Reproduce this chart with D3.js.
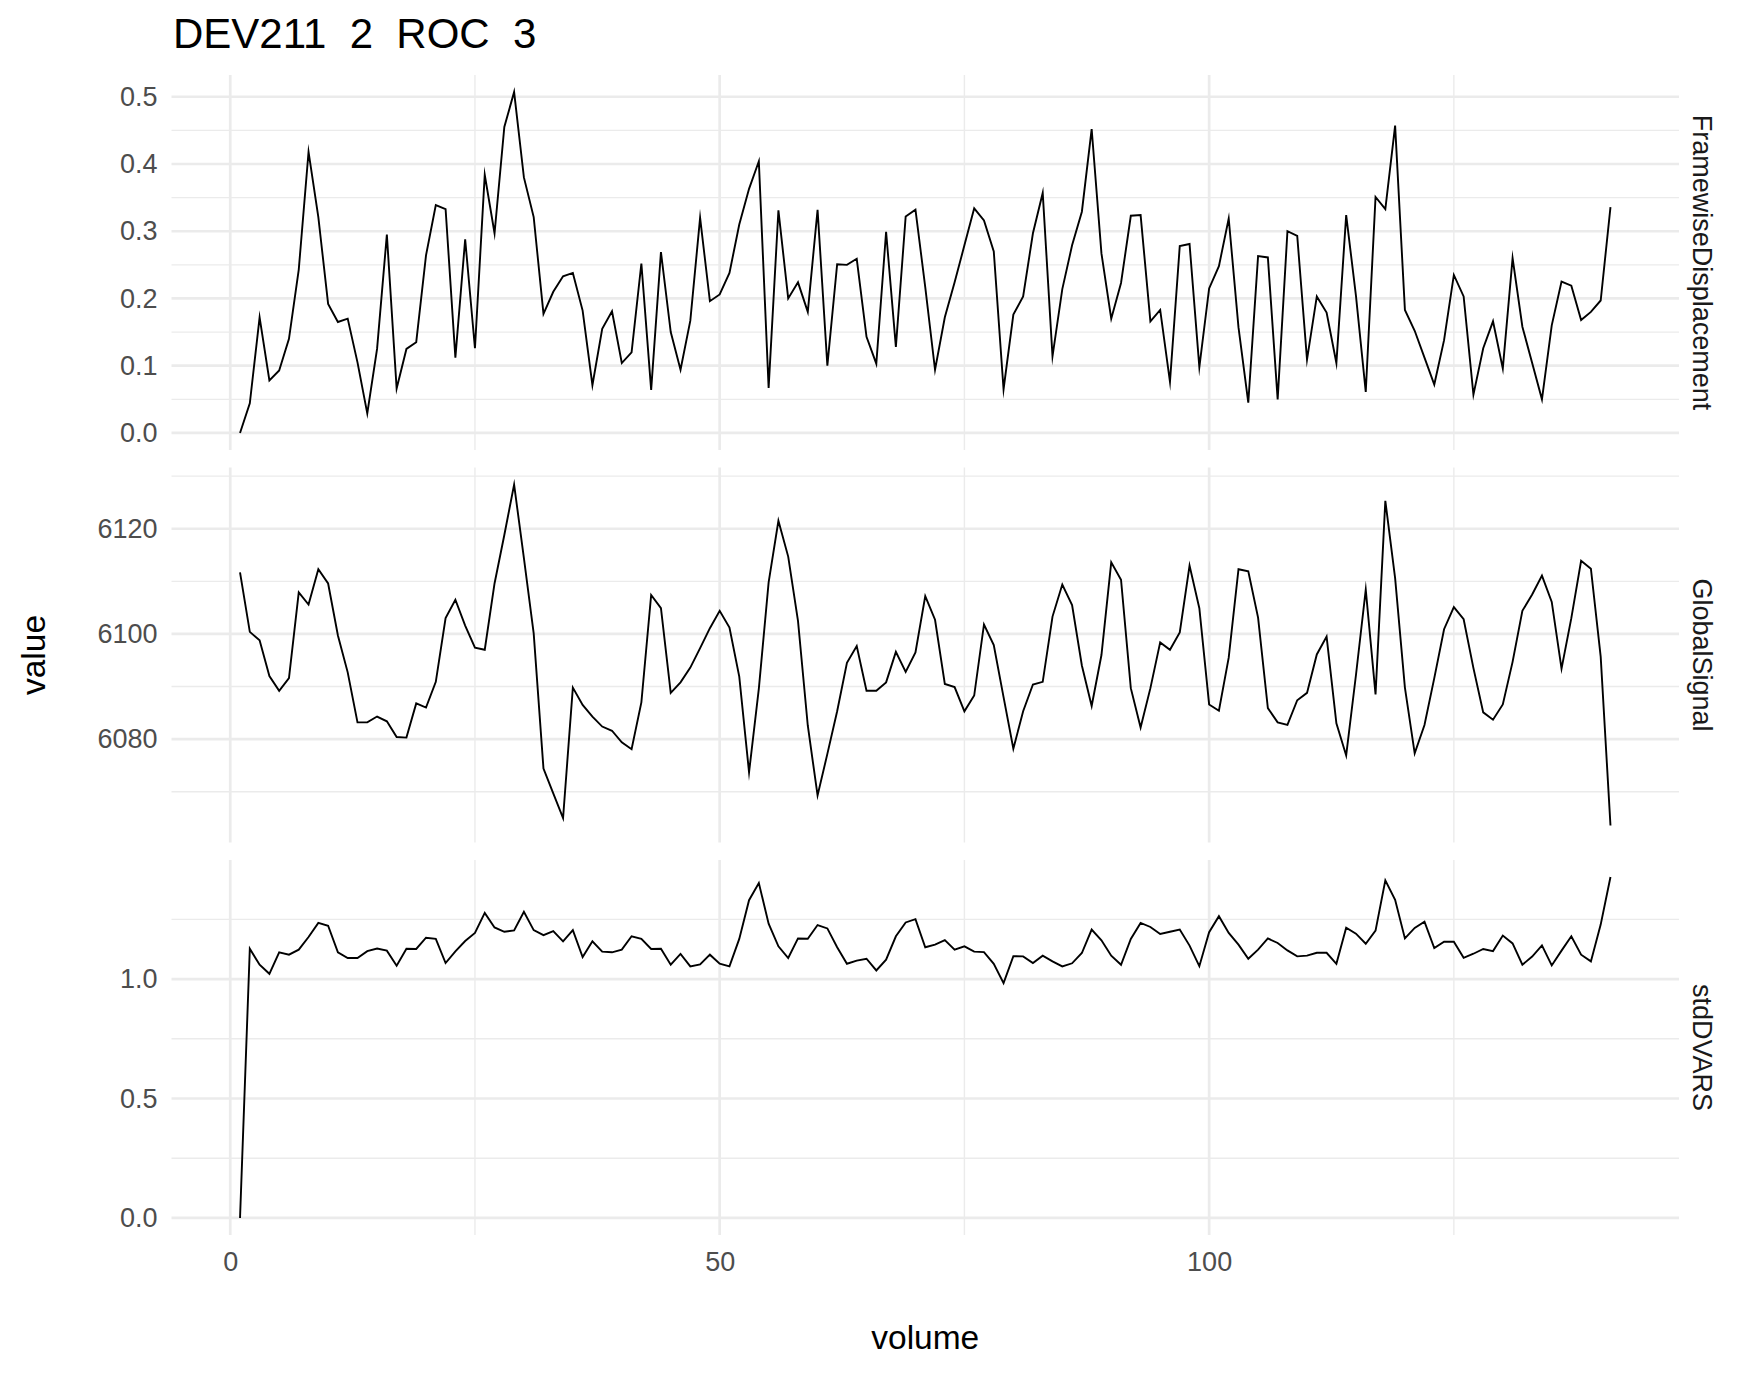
<!DOCTYPE html>
<html>
<head>
<meta charset="utf-8">
<script src="https://cdn.jsdelivr.net/npm/d3@7"></script>
<style>
  html, body { margin: 0; padding: 0; background: #fff; }
  svg text { font-family: "Liberation Sans", Arial, Helvetica, sans-serif; }
</style>
</head>
<body>
<svg id="chart" width="1750" height="1375"></svg>
<script>
const titleText = "DEV211  2  ROC  3";
const xLabel = "volume";
const yLabel = "value";
const facets = ["FramewiseDisplacement", "GlobalSignal", "stdDVARS"];

const volume = [1,2,3,4,5,6,7,8,9,10,11,12,13,14,15,16,17,18,19,20,
  21,22,23,24,25,26,27,28,29,30,31,32,33,34,35,36,37,38,39,40,
  41,42,43,44,45,46,47,48,49,50,51,52,53,54,55,56,57,58,59,60,
  61,62,63,64,65,66,67,68,69,70,71,72,73,74,75,76,77,78,79,80,
  81,82,83,84,85,86,87,88,89,90,91,92,93,94,95,96,97,98,99,100,
  101,102,103,104,105,106,107,108,109,110,111,112,113,114,115,116,117,118,119,120,
  121,122,123,124,125,126,127,128,129,130,131,132,133,134,135,136,137,138,139,140,141];

const framewiseDisplacement = [
  0.000,0.044,0.172,0.078,0.093,0.140,0.243,0.418,0.321,0.192,
  0.165,0.170,0.105,0.029,0.125,0.295,0.066,0.125,0.135,0.264,
  0.339,0.333,0.112,0.288,0.126,0.384,0.297,0.455,0.507,0.380,
  0.321,0.177,0.210,0.233,0.238,0.182,0.071,0.155,0.181,0.104,
  0.120,0.252,0.064,0.269,0.150,0.094,0.167,0.320,0.196,0.206,
  0.238,0.310,0.363,0.404,0.067,0.331,0.200,0.224,0.180,0.332,
  0.100,0.251,0.250,0.259,0.143,0.103,0.299,0.128,0.322,0.332,
  0.217,0.094,0.172,0.224,0.279,0.334,0.316,0.270,0.065,0.176,
  0.203,0.297,0.357,0.114,0.214,0.279,0.329,0.452,0.267,0.170,
  0.223,0.323,0.324,0.166,0.183,0.076,0.278,0.281,0.098,0.215,
  0.248,0.319,0.157,0.045,0.263,0.261,0.050,0.300,0.293,0.109,
  0.203,0.179,0.104,0.324,0.204,0.061,0.351,0.333,0.457,0.183,
  0.152,0.112,0.072,0.138,0.235,0.203,0.057,0.126,0.166,0.096,
  0.260,0.158,0.104,0.050,0.160,0.225,0.219,0.168,0.180,0.197,
  0.336];

const globalSignal = [
  6111.7,6100.4,6098.8,6092.0,6089.2,6091.6,6107.9,6105.6,6112.3,6109.6,
  6099.7,6092.7,6083.2,6083.2,6084.3,6083.4,6080.4,6080.3,6086.8,6086.0,
  6090.9,6103.0,6106.5,6101.6,6097.4,6097.0,6109.6,6118.8,6128.4,6114.4,
  6100.1,6074.4,6069.7,6065.0,6089.8,6086.5,6084.3,6082.4,6081.6,6079.4,
  6078.1,6087.0,6107.4,6104.9,6088.8,6090.8,6093.6,6097.3,6101.1,6104.4,
  6101.2,6091.9,6073.7,6089.6,6109.8,6121.5,6114.7,6102.5,6082.6,6069.3,
  6077.2,6085.3,6094.5,6097.7,6089.2,6089.2,6090.8,6096.6,6092.8,6096.5,
  6107.2,6102.7,6090.5,6089.9,6085.3,6088.3,6101.8,6097.9,6088.0,6078.2,
  6085.3,6090.4,6090.9,6103.3,6109.4,6105.5,6094.0,6086.3,6096.0,6113.6,
  6110.3,6089.7,6082.2,6089.7,6098.4,6097.0,6100.3,6113.0,6104.9,6086.6,
  6085.4,6095.5,6112.3,6111.9,6103.1,6085.9,6083.2,6082.7,6087.4,6088.8,
  6096.1,6099.5,6083.0,6076.9,6092.2,6108.4,6088.5,6125.3,6110.6,6089.8,
  6077.3,6082.7,6091.6,6100.9,6105.1,6102.8,6093.5,6085.1,6083.7,6086.6,
  6094.7,6104.4,6107.5,6111.1,6106.1,6093.4,6103.0,6113.9,6112.4,6095.7,
  6063.6];

const stdDVARS = [
  0.000,1.127,1.060,1.022,1.112,1.102,1.123,1.176,1.235,1.223,
  1.112,1.088,1.088,1.117,1.128,1.119,1.056,1.127,1.126,1.173,
  1.168,1.067,1.116,1.159,1.193,1.277,1.216,1.198,1.204,1.282,
  1.205,1.184,1.201,1.158,1.205,1.092,1.158,1.115,1.112,1.123,
  1.179,1.168,1.126,1.127,1.060,1.105,1.053,1.061,1.102,1.064,
  1.053,1.168,1.330,1.402,1.232,1.137,1.088,1.170,1.169,1.226,
  1.212,1.133,1.064,1.077,1.085,1.036,1.081,1.179,1.237,1.251,
  1.133,1.144,1.163,1.123,1.137,1.115,1.113,1.064,0.983,1.096,
  1.095,1.067,1.098,1.074,1.053,1.066,1.109,1.207,1.162,1.098,
  1.060,1.168,1.235,1.218,1.189,1.198,1.207,1.140,1.054,1.196,
  1.263,1.193,1.144,1.085,1.123,1.170,1.151,1.120,1.095,1.098,
  1.110,1.110,1.064,1.215,1.190,1.148,1.203,1.413,1.332,1.170,
  1.214,1.240,1.130,1.156,1.156,1.089,1.106,1.126,1.117,1.182,
  1.149,1.060,1.094,1.141,1.057,1.119,1.179,1.102,1.074,1.228,
  1.427];

const xMajorTicks = [0, 50, 100];
const xMinorTicks = [25, 75, 125];
const fdMajorTicks = [0.0, 0.1, 0.2, 0.3, 0.4, 0.5];
const fdMinorTicks = [0.05, 0.15, 0.25, 0.35, 0.45];
const gsMajorTicks = [6080, 6100, 6120];
const gsMinorTicks = [6070, 6090, 6110, 6130];
const dvMajorTicks = [0.0, 0.5, 1.0];
const dvMinorTicks = [0.25, 0.75, 1.25];

const panels = [
  { name: facets[0], values: framewiseDisplacement, major: fdMajorTicks, minor: fdMinorTicks, fmt: d3.format(".1f") },
  { name: facets[1], values: globalSignal, major: gsMajorTicks, minor: gsMinorTicks, fmt: d3.format("d") },
  { name: facets[2], values: stdDVARS, major: dvMajorTicks, minor: dvMinorTicks, fmt: d3.format(".1f") }
];

// layout
const W = 1750, H = 1375;
const plotLeft = 171.5, plotRight = 1679;
const panelTop = 75, panelH = 375, panelGap = 17.5;

const svg = d3.select("#chart");
svg.append("rect").attr("width", W).attr("height", H).attr("fill", "#ffffff");

function expanded(ext) {
  const r = ext[1] - ext[0];
  return [ext[0] - 0.05 * r, ext[1] + 0.05 * r];
}

const x = d3.scaleLinear()
  .domain(expanded(d3.extent(volume)))
  .range([plotLeft, plotRight]);

const gridMajor = "#EBEBEB", gridMinor = "#EBEBEB";
const tickColor = "#4D4D4D";

panels.forEach((p, i) => {
  const top = panelTop + i * (panelH + panelGap);
  const bottom = top + panelH;
  const y = d3.scaleLinear().domain(expanded(d3.extent(p.values))).range([bottom, top]);
  const g = svg.append("g");

  // minor grid
  g.selectAll(".ymin").data(p.minor.filter(v => v >= y.domain()[0] && v <= y.domain()[1])).enter()
    .append("line").attr("x1", plotLeft).attr("x2", plotRight)
    .attr("y1", d => y(d)).attr("y2", d => y(d))
    .attr("stroke", gridMinor).attr("stroke-width", 1.4);
  g.selectAll(".xmin").data(xMinorTicks).enter()
    .append("line").attr("x1", d => x(d)).attr("x2", d => x(d))
    .attr("y1", top).attr("y2", bottom)
    .attr("stroke", gridMinor).attr("stroke-width", 1.4);
  // major grid
  g.selectAll(".ymaj").data(p.major).enter()
    .append("line").attr("x1", plotLeft).attr("x2", plotRight)
    .attr("y1", d => y(d)).attr("y2", d => y(d))
    .attr("stroke", gridMajor).attr("stroke-width", 2.7);
  g.selectAll(".xmaj").data(xMajorTicks).enter()
    .append("line").attr("x1", d => x(d)).attr("x2", d => x(d))
    .attr("y1", top).attr("y2", bottom)
    .attr("stroke", gridMajor).attr("stroke-width", 2.7);

  // y axis labels via d3 axis
  const yAxis = d3.axisLeft(y).tickValues(p.major).tickFormat(p.fmt).tickSize(0).tickPadding(0);
  const ya = g.append("g").attr("transform", `translate(${plotLeft - 14},0)`).call(yAxis);
  ya.select(".domain").remove();
  ya.selectAll("text").attr("fill", tickColor).attr("font-size", 27)
    .attr("font-family", "'Liberation Sans', Arial, sans-serif");

  // line
  const line = d3.line().x((d, k) => x(volume[k])).y(d => y(d));
  g.append("path").datum(p.values).attr("d", line)
    .attr("fill", "none").attr("stroke", "#000").attr("stroke-width", 1.9)
    .attr("stroke-linejoin", "miter").attr("stroke-miterlimit", 10);

  // strip label (rotated)
  g.append("text")
    .attr("transform", `translate(${1702},${(top + bottom) / 2}) rotate(90)`)
    .attr("text-anchor", "middle").attr("dominant-baseline", "central")
    .attr("font-size", 27).attr("fill", "#1A1A1A").text(p.name);

  if (i === panels.length - 1) {
    const xAxis = d3.axisBottom(x).tickValues(xMajorTicks).tickFormat(d3.format("d")).tickSize(0).tickPadding(0);
    const xa = g.append("g").attr("transform", `translate(0,${bottom + 17})`).call(xAxis);
    xa.select(".domain").remove();
    xa.selectAll("text").attr("fill", tickColor).attr("font-size", 27)
      .attr("dy", "0.71em").attr("font-family", "'Liberation Sans', Arial, sans-serif");
  }
});

// titles
svg.append("text").attr("x", 173).attr("y", 48)
  .attr("font-size", 42).attr("fill", "#000").style("white-space", "pre")
  .text(titleText);

svg.append("text").attr("x", (plotLeft + plotRight) / 2).attr("y", 1337)
  .attr("text-anchor", "middle").attr("dominant-baseline", "central")
  .attr("font-size", 33.5).attr("fill", "#000").text(xLabel);

svg.append("text")
  .attr("transform", `translate(33,${panelTop + (3 * panelH + 2 * panelGap) / 2}) rotate(-90)`)
  .attr("text-anchor", "middle").attr("dominant-baseline", "central")
  .attr("font-size", 33.5).attr("fill", "#000").text(yLabel);
</script>
</body>
</html>
